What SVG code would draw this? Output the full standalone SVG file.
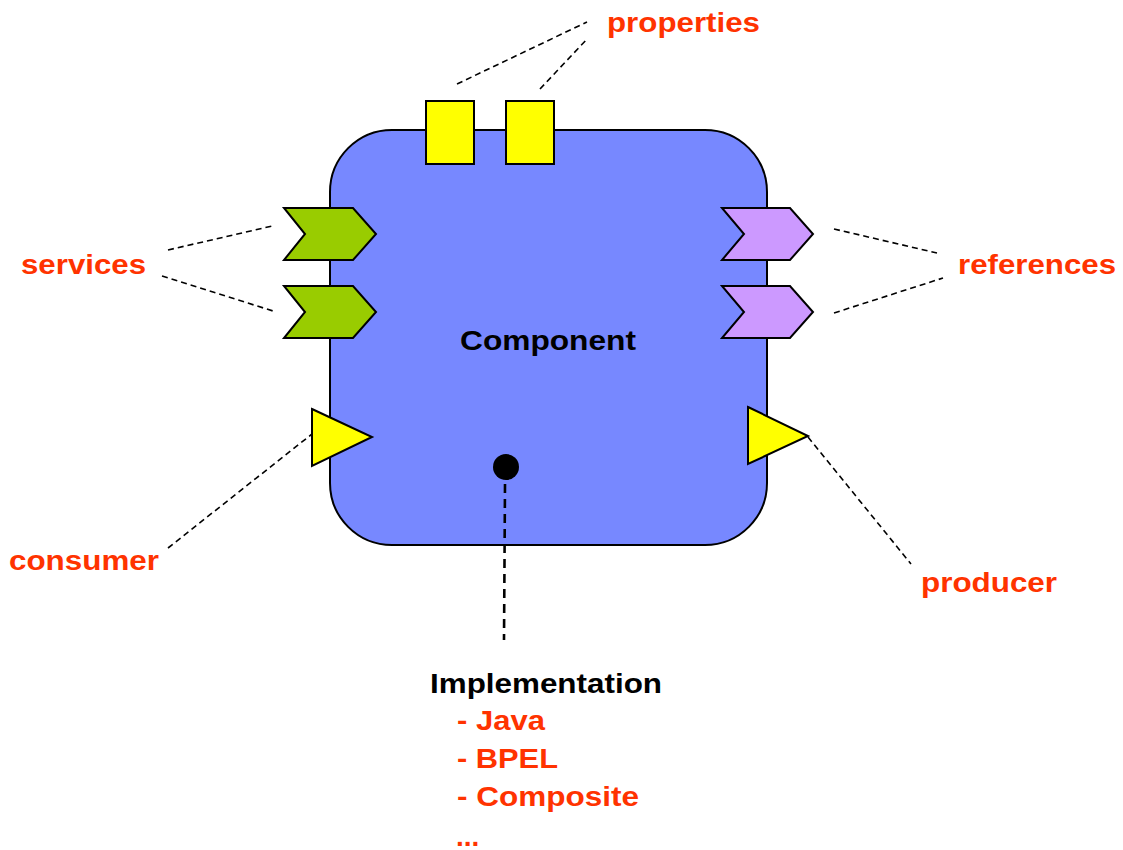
<svg xmlns="http://www.w3.org/2000/svg" width="1123" height="850" viewBox="0 0 1123 850">
  <style>
    .lbl { font-family: "Liberation Sans", Arial, sans-serif; font-weight: bold; font-size: 28px; fill: #FF3300; }
    .dark { fill: #000000; }
    .edge { fill: none; stroke: #000000; stroke-width: 1.6; stroke-dasharray: 6 4; }
    .edge-thick { fill: none; stroke: #000000; stroke-width: 2.6; stroke-dasharray: 9 6; }
    .svc { fill: #99CC00; stroke: #000000; stroke-width: 2; stroke-linejoin: miter; }
    .ref { fill: #CC99FF; stroke: #000000; stroke-width: 2; stroke-linejoin: miter; }
    .yel { fill: #FFFF00; stroke: #000000; stroke-width: 2; }
  </style>
  <rect width="1123" height="850" fill="#FFFFFF"/>

  <g id="component">
    <rect x="330" y="130" width="437" height="415" rx="62" ry="62" fill="#7788FF" stroke="#000000" stroke-width="2"/>
    <text class="lbl dark" x="460" y="350" textLength="176" lengthAdjust="spacingAndGlyphs">Component</text>
  </g>

  <!-- dashed leader lines, drawn over the body so the implementation line shows inside it -->
  <g id="connectors">
    <line class="edge" x1="457" y1="84" x2="587" y2="22"/>
    <line class="edge" x1="540" y1="89" x2="588" y2="38"/>
    <line class="edge" x1="168" y1="250" x2="272" y2="226"/>
    <line class="edge" x1="162" y1="276" x2="273" y2="311"/>
    <line class="edge" x1="834" y1="229" x2="937" y2="253"/>
    <line class="edge" x1="834" y1="313" x2="943" y2="278"/>
    <line class="edge" x1="168" y1="548" x2="312" y2="434"/>
    <line class="edge" x1="808" y1="437" x2="911" y2="564"/>
    <line class="edge-thick" x1="505" y1="484" x2="504" y2="640"/>
  </g>

  <g id="property-1">
    <rect class="yel" x="426" y="101" width="48" height="63"/>
  </g>
  <g id="property-2">
    <rect class="yel" x="506" y="101" width="48" height="63"/>
  </g>

  <g id="service-1">
    <polygon class="svc" points="284,208 353,208 376,234 353,260 284,260 305,234"/>
  </g>
  <g id="service-2">
    <polygon class="svc" points="284,286 353,286 376,312 353,338 284,338 305,312"/>
  </g>

  <g id="reference-1">
    <polygon class="ref" points="722,208 790,208 813,234 790,260 722,260 744,234"/>
  </g>
  <g id="reference-2">
    <polygon class="ref" points="722,286 790,286 813,312 790,338 722,338 744,312"/>
  </g>

  <g id="consumer-port">
    <polygon class="yel" points="312,409 372,437 312,466"/>
  </g>
  <g id="producer-port">
    <polygon class="yel" points="748,407 808,436 748,464"/>
  </g>

  <g id="implementation-point">
    <circle cx="506" cy="467" r="13" fill="#000000"/>
  </g>

  <g id="labels">
    <text class="lbl" x="607" y="32" textLength="153" lengthAdjust="spacingAndGlyphs">properties</text>
    <text class="lbl" x="21" y="274" textLength="125" lengthAdjust="spacingAndGlyphs">services</text>
    <text class="lbl" x="958" y="274" textLength="158" lengthAdjust="spacingAndGlyphs">references</text>
    <text class="lbl" x="9" y="570" textLength="150" lengthAdjust="spacingAndGlyphs">consumer</text>
    <text class="lbl" x="921" y="592" textLength="136" lengthAdjust="spacingAndGlyphs">producer</text>
  </g>

  <g id="implementation">
    <text class="lbl dark" x="430" y="693" textLength="232" lengthAdjust="spacingAndGlyphs">Implementation</text>
    <text class="lbl" x="457" y="730" textLength="88" lengthAdjust="spacingAndGlyphs">- Java</text>
    <text class="lbl" x="457" y="768" textLength="101" lengthAdjust="spacingAndGlyphs">- BPEL</text>
    <text class="lbl" x="457" y="806" textLength="182" lengthAdjust="spacingAndGlyphs">- Composite</text>
    <text class="lbl" x="456" y="846">...</text>
  </g>
</svg>
